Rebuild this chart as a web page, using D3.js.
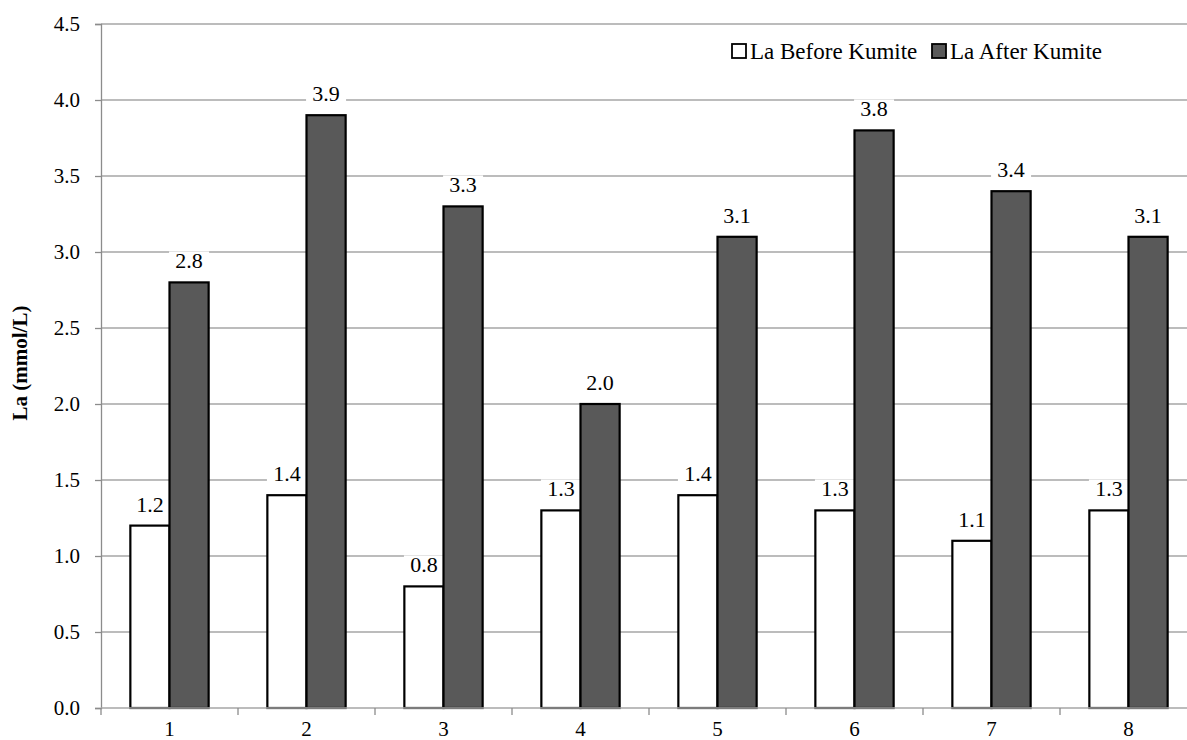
<!DOCTYPE html>
<html>
<head>
<meta charset="utf-8">
<script src="https://cdn.jsdelivr.net/npm/d3@7"></script>
<style>
  body { margin: 0; background: #fff; overflow: hidden; }
</style>
</head>
<body>
<script>
const categories = ['1', '2', '3', '4', '5', '6', '7', '8'];
const before = [1.2, 1.4, 0.8, 1.3, 1.4, 1.3, 1.1, 1.3];
const after = [2.8, 3.9, 3.3, 2.0, 3.1, 3.8, 3.4, 3.1];
const seriesNames = ['La Before Kumite', 'La After Kumite'];
const yTicks = [0, 0.5, 1, 1.5, 2, 2.5, 3, 3.5, 4, 4.5];

const width = 1187;
const height = 740;
const plotLeft = 101;
const plotRight = 1197;
const plotTop = 24;
const plotBottom = 708;
const serif = 'Liberation Serif';

const svg = d3.select('body').append('svg')
  .attr('width', width)
  .attr('height', height)
  .attr('font-family', serif);

const x = d3.scaleBand()
  .domain(categories)
  .range([plotLeft, plotRight]);

const inner = d3.scaleBand()
  .domain([0, 1])
  .range([0, x.bandwidth()])
  .paddingInner(0)
  .paddingOuter(0.75);

const y = d3.scaleLinear()
  .domain([0, 4.5])
  .range([plotBottom, plotTop]);

// grid lines
svg.append('g')
  .selectAll('line')
  .data(yTicks.slice(1))
  .join('line')
  .attr('x1', plotLeft)
  .attr('x2', plotRight)
  .attr('y1', d => y(d))
  .attr('y2', d => y(d))
  .attr('stroke', '#a6a6a6')
  .attr('stroke-width', 1.3);

// y axis
const yAxis = svg.append('g')
  .attr('transform', `translate(${plotLeft},0)`)
  .call(d3.axisLeft(y).tickValues(yTicks).tickFormat(d3.format('.1f')).tickSize(6));
yAxis.attr('font-family', serif).attr('font-size', 21);
yAxis.select('.domain').attr('stroke', '#8c8c8c').attr('stroke-width', 1.3);
yAxis.selectAll('.tick line').attr('stroke', '#8c8c8c').attr('stroke-width', 1.3);
yAxis.selectAll('.tick text')
  .attr('x', -21)
  .attr('fill', '#000');

svg.append('text')
  .attr('transform', `translate(27,${(plotTop + plotBottom) / 2 - 3}) rotate(-90)`)
  .attr('text-anchor', 'middle')
  .attr('font-size', 21)
  .attr('font-weight', 'bold')
  .text('La (mmol/L)');

const series = [before, after];
const fills = ['#ffffff', '#595959'];
const groups = svg.append('g')
  .selectAll('g')
  .data(categories)
  .join('g')
  .attr('transform', d => `translate(${x(d)},0)`);

const labelPos = (vals, si) => (d, i) =>
  `translate(${inner(si) + inner.bandwidth() / 2},${y(vals[i]) - 14})`;

// label backgrounds hide grid lines, drawn under the bars
series.forEach((vals, si) => {
  groups.append('rect')
    .attr('transform', labelPos(vals, si))
    .attr('x', -20).attr('y', -17)
    .attr('width', 40).attr('height', 22)
    .attr('fill', '#fff');
});

// bars
series.forEach((vals, si) => {
  groups.append('rect')
    .attr('x', inner(si))
    .attr('width', inner.bandwidth())
    .attr('y', (d, i) => y(vals[i]))
    .attr('height', (d, i) => plotBottom - y(vals[i]))
    .attr('fill', fills[si])
    .attr('stroke', '#000')
    .attr('stroke-width', 2.2);
});

// data labels
series.forEach((vals, si) => {
  groups.append('text')
    .attr('transform', labelPos(vals, si))
    .attr('text-anchor', 'middle')
    .attr('font-size', 22)
    .text((d, i) => d3.format('.1f')(vals[i]));
});

// x axis
const xAxis = svg.append('g')
  .attr('transform', `translate(0,${plotBottom})`);
xAxis.append('line')
  .attr('x1', plotLeft).attr('x2', plotRight)
  .attr('stroke', '#a6a6a6').attr('stroke-width', 1.5);
xAxis.selectAll('.tk')
  .data(categories.concat(['end']))
  .join('line')
  .attr('class', 'tk')
  .attr('x1', (d, i) => plotLeft + i * x.step())
  .attr('x2', (d, i) => plotLeft + i * x.step())
  .attr('y1', 0).attr('y2', 7)
  .attr('stroke', '#8c8c8c').attr('stroke-width', 1.3);
xAxis.selectAll('.cat')
  .data(categories)
  .join('text')
  .attr('class', 'cat')
  .attr('x', d => x(d) + x.bandwidth() / 2)
  .attr('y', 28)
  .attr('text-anchor', 'middle')
  .attr('font-size', 21)
  .text(d => d);

// legend
const legendX = [731, 931];
const legend = svg.append('g')
  .selectAll('g')
  .data(seriesNames)
  .join('g')
  .attr('transform', (d, i) => `translate(${legendX[i]},51)`);
legend.append('rect')
  .attr('x', 1).attr('y', -7)
  .attr('width', 14).attr('height', 14)
  .attr('fill', (d, i) => fills[i])
  .attr('stroke', '#000')
  .attr('stroke-width', 1.8);
legend.append('text')
  .attr('x', 19).attr('y', 8)
  .attr('font-size', 23)
  .text(d => d);
</script>
</body>
</html>
